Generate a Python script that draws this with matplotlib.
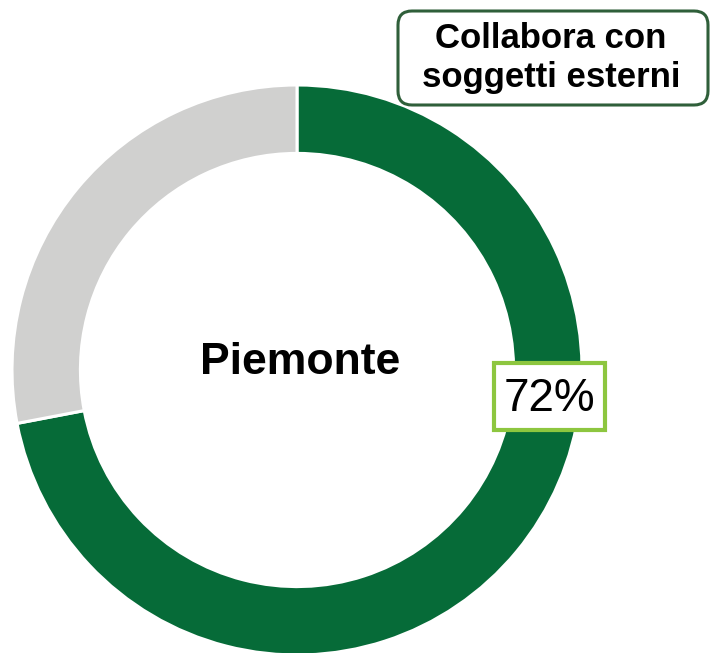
import matplotlib
matplotlib.use('Agg')
import matplotlib.pyplot as plt
from matplotlib.patches import FancyBboxPatch

# ====================== DATA ======================
labels = ["Collabora", "Non collabora"]
values = [72, 28]
colors = ["#066B38", "#D0D0CF"]
center_label = "Piemonte"
title = "Collabora con\nsoggetti esterni"
value_label = f"{values[0]}%"

# ====================== PLOT ======================
W, H = 710, 653
fig = plt.figure(figsize=(W / 100, H / 100), dpi=100)
ax = fig.add_axes([0, 0, 1, 1])

cx, cy, R = 297, H - 370, 285
ax.pie(values, colors=colors, startangle=90, counterclock=False,
       radius=R, center=(cx, cy), frame=True,
       wedgeprops=dict(width=R * 0.24, edgecolor='white', linewidth=2.2))
ax.set_xlim(0, W)
ax.set_ylim(0, H)
ax.set_aspect('equal')
ax.axis('off')

ax.text(cx + 3, H - 362, center_label, ha='center', va='center',
        fontsize=32, fontweight='bold', family='Liberation Sans', color='black')

# value label box
ax.add_patch(FancyBboxPatch((494, H - 430), 111, 67, boxstyle='square,pad=0',
                            facecolor='white', edgecolor='#8DC63F', linewidth=3,
                            zorder=3))
ax.text(549, H - 399, value_label, ha='center', va='center',
        fontsize=33, family='Liberation Sans', color='black', zorder=4)

# title box (cut off at right edge)
ax.add_patch(FancyBboxPatch((398, H - 105), 310, 94,
                            boxstyle='round,pad=0,rounding_size=14',
                            facecolor='white', edgecolor='#2F5F3A', linewidth=2.2,
                            zorder=3, clip_on=False))
ax.text(551, H - 58, title, ha='center', va='center',
        fontsize=25, fontweight='bold', family='Liberation Sans',
        color='black', linespacing=1.2, zorder=4)

fig.savefig('out.png', dpi=100)
